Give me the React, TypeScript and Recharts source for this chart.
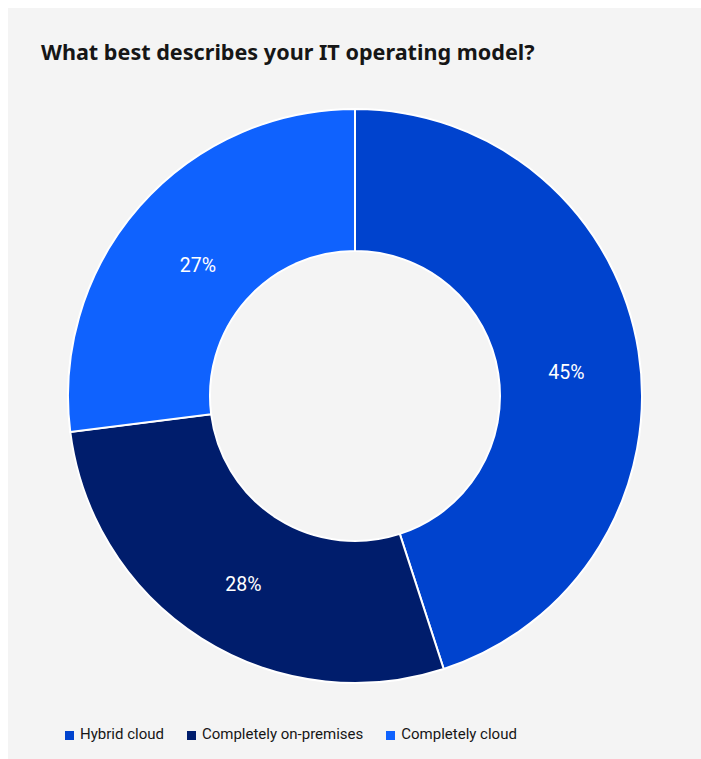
import React from "react";
import { PieChart, Pie, Cell, Legend } from "recharts";

const categories = ["Hybrid cloud", "Completely on-premises", "Completely cloud"];
const shares = [45, 28, 27];
const colors = ["#0043ce", "#001d6c", "#0f62fe"];

const data = categories.map((name, i) => ({ name, value: shares[i] }));

const FONT = 'Roboto, "Noto Sans", Arial, sans-serif';
const TITLE_FONT = '"Noto Sans", Roboto, Arial, sans-serif';
const RAD = Math.PI / 180;

const renderLabel = (props: any) => {
  const { cx, cy, midAngle, innerRadius, outerRadius, value } = props;
  const r = (innerRadius + outerRadius) / 2 - 4;
  const x = cx + r * Math.cos(-midAngle * RAD);
  const y = cy + r * Math.sin(-midAngle * RAD);
  return (
    <text
      x={x}
      y={y}
      dx={2}
      dy={10}
      fill="#ffffff"
      textAnchor="middle"
      dominantBaseline="central"
      fontSize={19.5}
      fontFamily={FONT}
    >
      {`${value}%`}
    </text>
  );
};

const LegendContent = (props: any) => {
  // keep the legend in category order
  const items = [...(props.payload || [])].sort(
    (a: any, b: any) => categories.indexOf(a.value) - categories.indexOf(b.value)
  );
  return (
    <div style={{ display: "flex", alignItems: "center", fontFamily: FONT, fontSize: 15, color: "#161616" }}>
      {items.map((entry: any, i: number) => (
        <div key={i} style={{ display: "flex", alignItems: "center", marginRight: 23 }}>
          <span
            style={{
              display: "inline-block",
              width: 9,
              height: 9,
              background: entry.color,
              marginRight: 6,
              marginTop: 2,
            }}
          />
          <span>{entry.value}</span>
        </div>
      ))}
    </div>
  );
};

export default function App() {
  return (
    <div
      style={{
        position: "fixed",
        left: 8,
        top: 8,
        width: 693,
        height: 751,
        background: "#f4f4f4",
        overflow: "hidden",
      }}
    >
      <div
        style={{
          position: "absolute",
          left: 33,
          top: 30,
          fontFamily: TITLE_FONT,
          fontWeight: 700,
          fontSize: 21.6,
          lineHeight: "28px",
          color: "#161616",
          whiteSpace: "nowrap",
        }}
      >
        What best describes your IT operating model?
      </div>
      <div style={{ position: "absolute", left: 0, top: 0 }}>
        <PieChart width={693} height={751} margin={{ top: 0, right: 0, bottom: 0, left: 0 }}>
          <Pie
            data={data}
            dataKey="value"
            nameKey="name"
            cx={347}
            cy={388}
            innerRadius={145}
            outerRadius={287}
            startAngle={90}
            endAngle={-270}
            stroke="#ffffff"
            strokeWidth={2}
            label={renderLabel}
            labelLine={false}
            isAnimationActive={false}
          >
            {data.map((d, i) => (
              <Cell key={d.name} fill={colors[i]} />
            ))}
          </Pie>
          <Legend
            content={<LegendContent />}
            layout="horizontal"
            verticalAlign="bottom"
            align="left"
            wrapperStyle={{ left: 57, top: 717, bottom: "auto", width: "auto" }}
          />
        </PieChart>
      </div>
    </div>
  );
}
